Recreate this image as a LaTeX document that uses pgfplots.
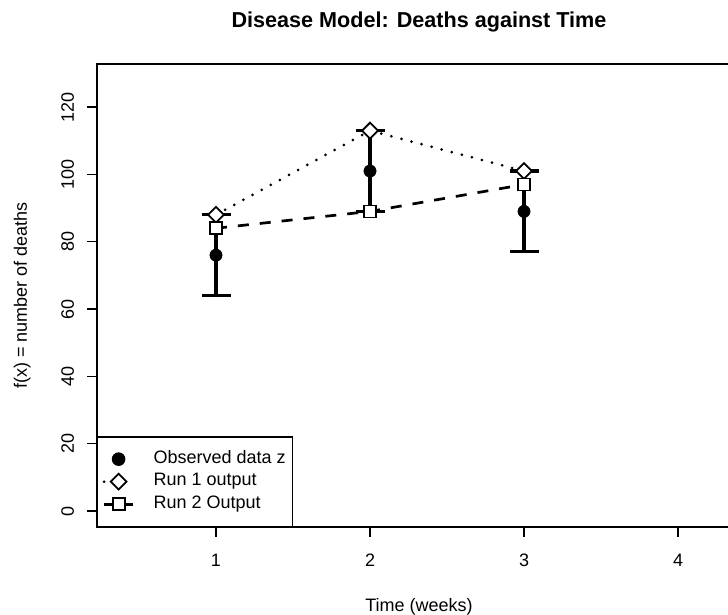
\documentclass[border=0pt]{standalone}
\usepackage{pgfplots}
\pgfplotsset{compat=1.18}
\usepackage{fontspec}
\setmainfont{Liberation Sans}
\begin{document}
\begin{tikzpicture}[x=1pt,y=1pt]
\path[use as bounding box] (0,0) rectangle (728,-615);
\clip (0,0) rectangle (728,-615);
\begin{axis}[
  at={(97pt,-527pt)}, anchor=south west,
  width=644pt, height=463pt, scale only axis,
  xmin=0.2273, xmax=4.409, ymin=-4.75, ymax=132.8,
  xtick={1,2,3,4}, ytick={0,20,40,60,80,100,120},
  tick align=outside, xtick pos=left, ytick pos=left,
  major tick length=10pt,
  axis line style={line width=1.2pt},
  every tick/.style={black, line width=1.2pt},
  /pgf/number format/assume math mode=true,
  tick label style={font=\fontsize{18}{21.6}\selectfont},
  xticklabel style={anchor=base, yshift=-29pt},
  yticklabel style={anchor=base, xshift=-13pt, rotate=90},
  legend style={at={(0,0)}, anchor=south west, draw=black, line width=1.2pt,
    fill=white, inner xsep=5pt, inner ysep=11pt,
    font=\fontsize{18}{21.6}\selectfont,
    nodes={inner xsep=2pt, inner ysep=2.5pt, text height=13pt, text depth=4.5pt},
    /tikz/every odd column/.append style={column sep=17pt}},
  legend cell align=left,
  legend image code/.code={\draw[mark repeat=2, mark phase=2, #1] plot coordinates {(0pt,0pt) (14.5pt,0pt) (29pt,0pt)};},
]
\addplot[only marks, mark=*, mark size=6.2pt, black,
  error bars/.cd, y dir=both, y explicit, error mark=|,
  error bar style={line width=3.2pt, black},
  error mark options={line width=3.2pt, mark size=14.5pt, black}]
  coordinates {(1,76) +- (0,12) (2,101) +- (0,12) (3,89) +- (0,12)};
\addlegendentry{Observed data z}
\addplot[black, line width=3pt, line cap=round, dash pattern=on 0pt off 10.4pt,
  mark=square*, mark size=5.6pt,
  mark options={solid, fill=white, draw=black, line width=1.8pt, rotate=45}]
  coordinates {(1,88) (2,113) (3,101)};
\addlegendentry{Run 1 output}
\addplot[black, line width=2.7pt, dash pattern=on 11pt off 11pt,
  mark=square*, mark size=6pt,
  mark options={solid, fill=white, draw=black, line width=1.8pt}]
  coordinates {(1,84) (2,89) (3,97)};
\addlegendentry{Run 2 Output}
\end{axis}
\node[anchor=base, font=\bfseries\fontsize{21.6}{26}\selectfont] at (419,-27.5) {Disease Model: Deaths against Time};
\node[anchor=base, font=\fontsize{18}{21.6}\selectfont] at (419,-611) {Time (weeks)};
\node[anchor=base, rotate=90, font=\fontsize{18}{21.6}\selectfont] at (27,-295.5) {f(x) = number of deaths};
\end{tikzpicture}
\end{document}
